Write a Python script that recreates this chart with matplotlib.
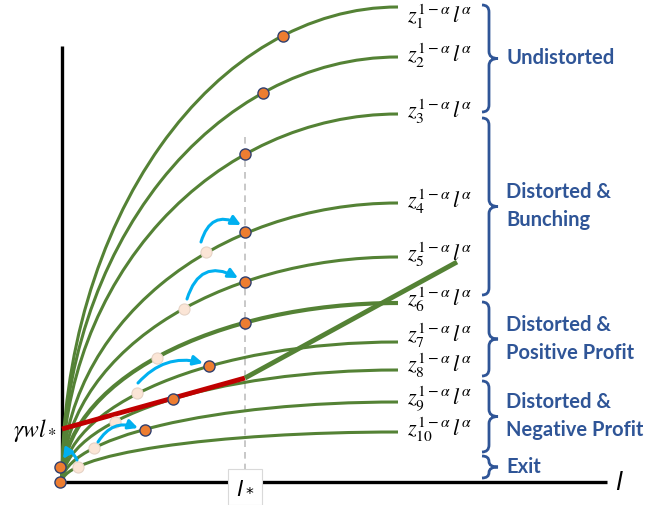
import matplotlib
matplotlib.use("Agg")
import matplotlib.pyplot as plt
from matplotlib.patches import Arc, FancyArrowPatch, PathPatch
from matplotlib.path import Path

# schematic units (about one pixel each), origin at the corner of the axes
curve_end = 336
heights = [475, 425, 368, 279, 225, 179, 140, 112, 80, 50]
label_y = [465, 426, 370, 280, 227, 182, 146, 116, 83, 52]
labels = [r"$z_{%d}^{1-\alpha}\,l^{\alpha}$" % i for i in range(1, 11)]

l_star = 183
optimal_l = [221, 201, 183, 183, 183, 183, 147, 111, 83, -2, -2]
optimal_y = [446, 389, 328, 250, 200, 159, 116, 83, 52, 15, 0]
start_l = [144, 122, 95, 75, 53, 32, 16]
start_y = [230, 173, 124, 89, 60, 34, 15]

red_l, red_y = [0, 183], [53, 104]
thick_l, thick_y = [183, 395], [104, 220]

# shifts: (from, to, bend)
moves = [((139, 240), (179, 257), -0.6),
         ((125, 183), (176, 204), -0.6),
         ((76, 99), (141, 119), -0.3),
         ((36, 40), (76, 54), -0.4),
         ((15, 22), (1, 23), 0.9)]

groups = [(370, 477, ["Undistorted"]),
          (187, 364, ["Distorted &", "Bunching"]),
          (106, 180, ["Distorted &", "Positive Profit"]),
          (30, 101, ["Distorted &", "Negative Profit"]),
          (4, 26, ["Exit"])]

GREEN = "#548235"
ORANGE = "#ED7D31"
BLUE = "#2F5597"

plt.rcParams["mathtext.fontset"] = "stix"

fig = plt.figure(figsize=(6.61, 5.05), dpi=100)
ax = fig.add_axes([0, 0, 1, 1])
ax.set_xlim(-62, 599)
ax.set_ylim(-23, 482)
ax.axis("off")

# axes of the diagram
ax.plot([0, 0], [0, 436], color="black", lw=2.4, solid_capstyle="butt", zorder=2)
ax.plot([-7, 545], [0, 0], color="black", lw=2.4, solid_capstyle="butt", zorder=2)
ax.plot([l_star, l_star], [0, 350], color="#BFBFBF", lw=1.2, ls=(0, (4, 3)), zorder=1)

for i, h in enumerate(heights):
    lw = 3.0 if i == 5 else 2.2
    ax.add_patch(Arc((curve_end, 0), 2 * curve_end, 2 * h, theta1=90, theta2=180,
                     color=GREEN, lw=lw, zorder=3))
    ax.text(345, label_y[i], labels[i], fontsize=16, ha="left", va="center")

ax.plot(red_l, red_y, color="#C00000", lw=3.5, solid_capstyle="butt", zorder=4)
ax.plot(thick_l, thick_y, color=GREEN, lw=3.5, solid_capstyle="butt", zorder=4)

ax.plot(start_l, start_y, "o", ms=8, mfc="#FBE5D6", mec="#E6D3C6", mew=0.8, zorder=5)
ax.plot(optimal_l, optimal_y, "o", ms=8, mfc=ORANGE, mec="#2F3F6F", mew=1.0, zorder=5)

for a, b, rad in moves:
    ax.add_patch(FancyArrowPatch(a, b, connectionstyle="arc3,rad=%s" % rad,
                                 arrowstyle="-|>", mutation_scale=14, color="#00B0F0",
                                 lw=2.2, shrinkA=0, shrinkB=0, zorder=6))


def brace(x, y0, y1, w=7, tip=9):
    r = min(7, (y1 - y0) / 4)
    ym = (y0 + y1) / 2
    verts = [(x - w, y1), (x, y1), (x, y1 - r), (x, ym + r), (x, ym), (x + tip, ym),
             (x, ym), (x, ym - r), (x, y0 + r), (x, y0), (x - w, y0)]
    codes = [Path.MOVETO, Path.CURVE3, Path.CURVE3, Path.LINETO, Path.CURVE3, Path.CURVE3,
             Path.CURVE3, Path.CURVE3, Path.LINETO, Path.CURVE3, Path.CURVE3]
    return PathPatch(Path(verts, codes), fc="none", ec=BLUE, lw=2.0, zorder=3)


for y0, y1, lines in groups:
    ax.add_patch(brace(427, y0, y1))
    ym = (y0 + y1) / 2
    off = 14 * (len(lines) - 1)
    for k, s in enumerate(lines):
        ax.text(444, ym + off - 28 * k, s, fontsize=14.5, family="Lato", weight="bold",
                color=BLUE, ha="left", va="center")

ax.text(-5, 51, r"$\gamma w l_*$", fontsize=17, ha="right", va="center")
ax.text(l_star, -5, r"$l_*$", fontsize=16, math_fontfamily="dejavusans", ha="center",
        va="center", zorder=7,
        bbox=dict(boxstyle="square,pad=0.35", fc="white", ec="#D9D9D9", lw=0.8))
ax.text(557, -1, r"$l$", fontsize=18, math_fontfamily="dejavusans", ha="center", va="center")

fig.savefig("out.png", dpi=100)
